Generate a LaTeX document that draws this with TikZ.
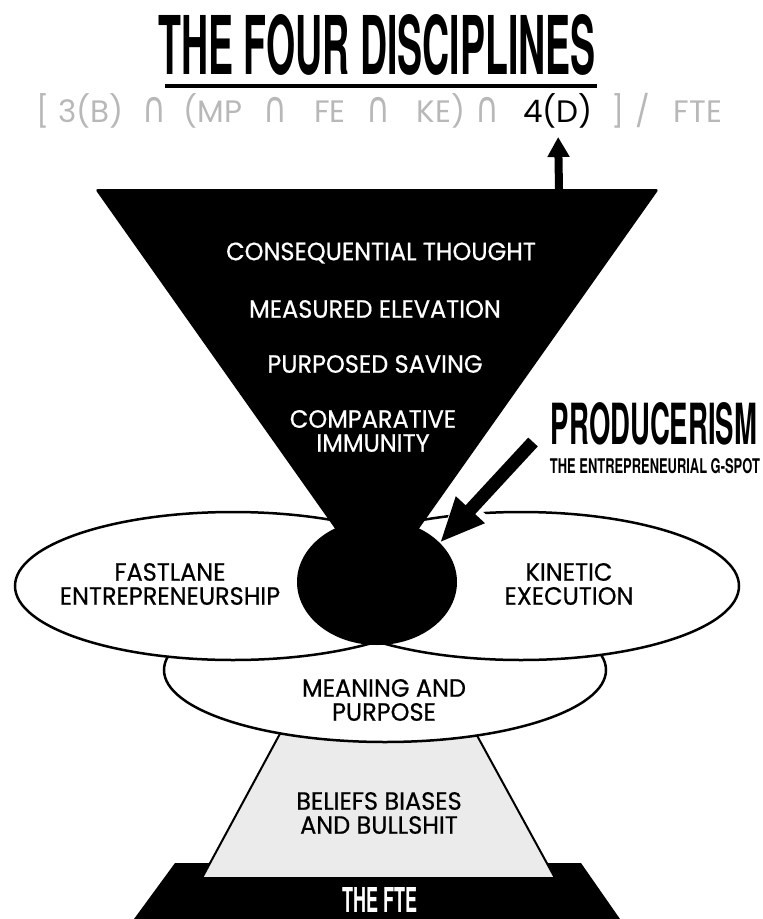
\documentclass[tikz,border=0pt]{standalone}
\usepackage{fontspec}
\usepackage{graphicx}
\usetikzlibrary{arrows.meta, shapes.geometric, positioning}
\newfontfamily\labelfont[FakeStretch=0.96, FakeBold=0.6]{Poppins}
\newfontfamily\formfont{Poppins}
\newfontfamily\headfont{TeX Gyre Heros}
\newfontfamily\symfont{DejaVu Sans}
\newcommand{\squeezed}[3]{\resizebox{#1}{#2}{\headfont\bfseries #3}}
\newcommand{\capsym}{\scalebox{1.05}[1.4]{\symfont ∩}}
\definecolor{formgrey}{gray}{0.72}
\definecolor{beliefgrey}{gray}{0.92}

\begin{document}
\begin{tikzpicture}[x=1pt, y=-1pt,
  lbl/.style={font=\labelfont\fontsize{25}{24}\selectfont, align=center, inner sep=0pt},
  formula/.style={font=\formfont\fontsize{31}{31}\selectfont, anchor=base, inner sep=0pt},
  bubble/.style={ellipse, draw=black, line width=2.5pt, fill=white, inner sep=0pt}]
  \useasboundingbox (0,0) rectangle (763,919);
  % title and formula
  \node[inner sep=0pt] (title) at (377,45) {\squeezed{437pt}{60pt}{THE FOUR DISCIPLINES}};
  \draw[line width=3.5pt] (165,86) -- (597,86);
  \foreach \x/\t in {43/{[}, 91/3(B), 154/\capsym, 213/(MP, 275/\capsym,
                     330/FE, 378/\capsym, 441/KE), 487/\capsym,
                     618/{]}, 643/{/}, 698/FTE}
    \node[formula, text=formgrey] at (\x,122) {\t};
  \node[formula] (fd) at (558,122) {4(D)};

  % base and pedestal
  \fill (175,863) -- (581,863) -- (620,919) -- (134,919) -- cycle;
  \draw[line width=2pt, fill=beliefgrey] (282,730) -- (474,730) -- (555,878) -- (202,878) -- cycle;

  % the rings
  \node[bubble, minimum width=442pt, minimum height=144pt] (mp) at (385,670) {};
  \node[bubble, minimum width=436pt, minimum height=148pt] (fe) at (233,586) {};
  \node[bubble, minimum width=436pt, minimum height=148pt] (ke) at (521,586) {};

  % funnel
  \fill[rounded corners=3pt] (95,189) -- (659,189) -- (377,588) -- cycle;
  \node[ellipse, fill=black, minimum width=160pt, minimum height=126pt, inner sep=0pt] (gspot) at (377,582) {};
  \coordinate (foot) at (559,189);
  \draw[line width=8pt, -{Triangle[width=21pt,length=20pt]}, shorten >=9pt] (foot) -- (fd.south);

  % producerism
  \node[inner sep=0pt] (prod) at (654,424) {\squeezed{206pt}{42pt}{PRODUCERISM}};
  \node[inner sep=0pt] (gsub) at (655,466) {\squeezed{210pt}{15pt}{THE ENTREPRENEURIAL G-SPOT}};
  \coordinate (ptail) at (533,442);
  \draw[line width=13pt, -{Triangle[width=36pt,length=45pt]},
        preaction={draw=white, line width=20pt, -{Triangle[width=46pt,length=52pt]}}]
        (ptail) -- (gspot.32);

  % labels
  \node[lbl, text=white] (consq) at (381,253) {CONSEQUENTIAL THOUGHT};
  \node[lbl, text=white] (meas) at (375,309) {MEASURED ELEVATION};
  \node[lbl, text=white] (purp) at (375,364) {PURPOSED SAVING};
  \node[lbl, text=white] (comp) at (373,431) {COMPARATIVE\\IMMUNITY};
  \node[lbl] (fast) at (170,584) {FASTLANE\\ENTREPRENEURSHIP};
  \node[lbl] (kin) at (569,584) {KINETIC\\EXECUTION};
  \node[lbl] (mean) at (384,700) {MEANING AND\\PURPOSE};
  \node[lbl] (bel) at (379,813) {BELIEFS BIASES\\AND BULLSHIT};
  \node[inner sep=0pt, text=white] (fte) at (380,900) {\squeezed{75pt}{25pt}{THE FTE}};
\end{tikzpicture}
\end{document}
